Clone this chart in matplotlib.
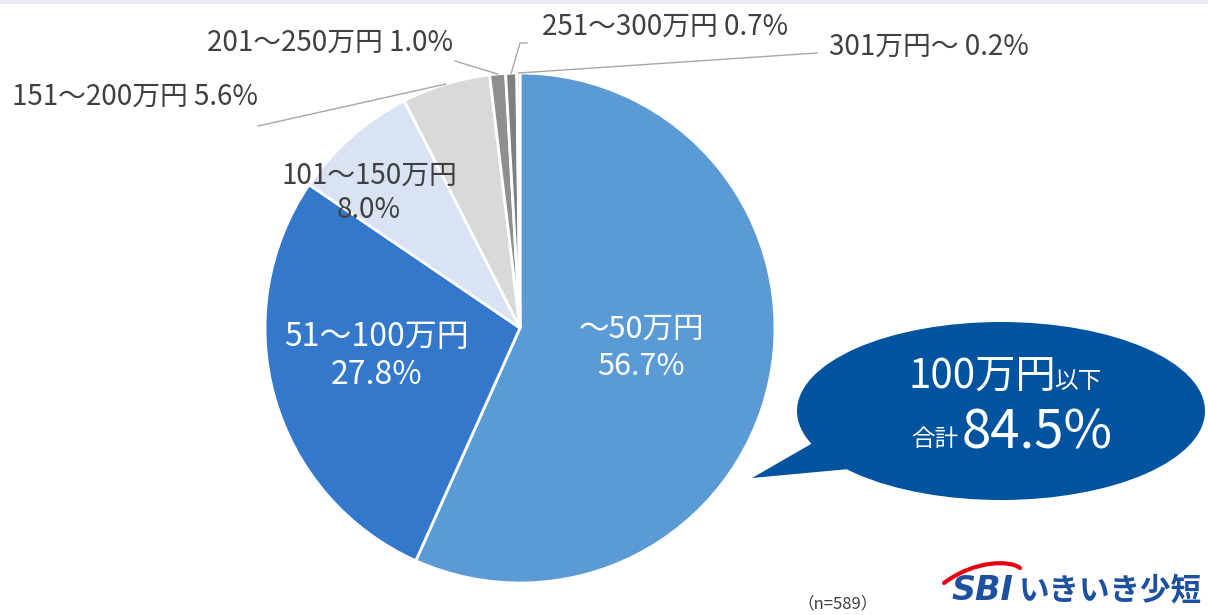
import numpy as np
import matplotlib
matplotlib.use("Agg")
import matplotlib.pyplot as plt
from matplotlib.patches import Ellipse, Polygon, PathPatch, Rectangle
from matplotlib.path import Path

plt.rcParams['font.family'] = ['Noto Sans CJK JP', 'DejaVu Sans']

# ---- data ----
categories = ["～50万円", "51～100万円", "101～150万円", "151～200万円",
              "201～250万円", "251～300万円", "301万円～"]
shares = [56.7, 27.8, 8.0, 5.6, 1.0, 0.7, 0.2]
pct_labels = ["56.7%", "27.8%", "8.0%", "5.6%", "1.0%", "0.7%", "0.2%"]
colors = ["#5B9BD5", "#3478CC", "#DAE3F3", "#D9D9D9", "#8F8F8F", "#7F7F7F", "#C8C8C8"]
callout_top = "100万円"
callout_top_small = "以下"
callout_bottom_small = "合計"
callout_value = "84.5%"
sample_note = "（n=589）"

W, H = 1208, 615
fig = plt.figure(figsize=(W / 100, H / 100), dpi=100)
ax = fig.add_axes([0, 0, 1, 1])
ax.set_xlim(0, W)
ax.set_ylim(0, H)
ax.axis('off')

def Y(py):
    return H - py

# top frame band
ax.add_patch(Rectangle((0, Y(4)), W, 4, color="#E9EDF2", lw=0, zorder=0))

cx, cy, R = 520, 328, 255
wedges, _ = ax.pie(shares, colors=colors, startangle=90, counterclock=False,
                   center=(cx, Y(cy)), radius=R,
                   wedgeprops=dict(edgecolor="white", linewidth=2))
ax.set_xlim(0, W)
ax.set_ylim(0, H)
ax.set_aspect('equal')

def edge_point(i):
    w = wedges[i]
    mid = np.deg2rad((w.theta1 + w.theta2) / 2)
    return cx + R * np.cos(mid), Y(cy) + R * np.sin(mid)

# inside labels
ax.text(641, Y(348), categories[0] + "\n" + pct_labels[0], color="white",
        fontsize=22, ha="center", va="center", linespacing=1.25)
ax.text(377, Y(356), categories[1] + "\n" + pct_labels[1], color="white",
        fontsize=23, ha="center", va="center", linespacing=1.25)
ax.text(369, Y(193), categories[2] + "\n" + pct_labels[2], color="#404040",
        fontsize=20, ha="center", va="center", linespacing=1.2)

# outside labels with leader lines
lc = "#A6A6A6"
tc = "#404040"
fs_out = 20
ex, ey = edge_point(3)
ax.plot([ex, 258], [ey, Y(126)], color=lc, lw=1)
ax.text(135, Y(97), categories[3] + " " + pct_labels[3], color=tc,
        fontsize=fs_out, ha="center", va="center")

ex, ey = edge_point(4)
ax.plot([ex, 455], [ey, Y(61)], color=lc, lw=1)
ax.text(330, Y(43), categories[4] + " " + pct_labels[4], color=tc,
        fontsize=fs_out, ha="center", va="center")

ex, ey = edge_point(5)
ax.plot([ex, 520, 527], [ey, Y(43), Y(43)], color=lc, lw=1)
ax.text(665, Y(27), categories[5] + " " + pct_labels[5], color=tc,
        fontsize=fs_out, ha="center", va="center")

ex, ey = edge_point(6)
ax.plot([ex, 817], [ey, Y(53)], color=lc, lw=1)
ax.text(929, Y(47), categories[6] + " " + pct_labels[6], color=tc,
        fontsize=fs_out, ha="center", va="center")

# callout bubble
bc = "#00539F"
ax.add_patch(Ellipse((1001, Y(411)), 408, 178, color=bc, lw=0, zorder=3))
ax.add_patch(Polygon([(818, Y(440)), (752, Y(478)), (860, Y(468))],
                     closed=True, color=bc, lw=0, zorder=3))
ax.text(982, Y(376), callout_top, color="white", fontsize=29,
        ha="center", va="center", zorder=4)
ax.text(1078, Y(381), callout_top_small, color="white", fontsize=17,
        ha="center", va="center", zorder=4)
ax.text(935, Y(440), callout_bottom_small, color="white", fontsize=17,
        ha="center", va="center", zorder=4)
ax.text(1037, Y(433), callout_value, color="white", fontsize=38,
        ha="center", va="center", zorder=4)

# sample note
ax.text(838, Y(604), sample_note, color="#404040", fontsize=12,
        ha="center", va="center")

# logo
logo_blue = "#1E50A0"
ax.text(982, Y(590), "SBI", color=logo_blue, fontsize=24, fontweight="bold",
        fontstyle="italic", family=["DejaVu Sans"], ha="center", va="center")
ax.text(1110, Y(590), "いきいき少短", color=logo_blue, fontsize=22,
        fontweight="bold", ha="center", va="center")
verts = [(944, Y(583)), (975, Y(560)), (1010, Y(560)), (1020, Y(568))]
ax.add_patch(PathPatch(Path(verts, [Path.MOVETO, Path.CURVE4, Path.CURVE4, Path.CURVE4]),
                       fill=False, edgecolor="#E60012", lw=3, capstyle="round"))

fig.savefig("out.png", dpi=100)
